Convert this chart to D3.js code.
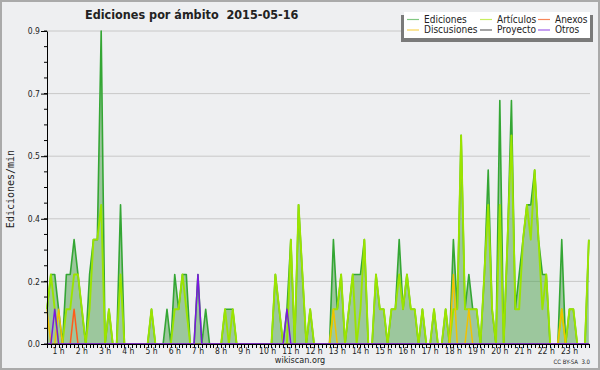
<!DOCTYPE html>
<html>
<head>
<meta charset="utf-8">
<script src="https://cdn.jsdelivr.net/npm/d3@7"></script>
<style>
body { margin: 0; background: #fff; }
text { font-family: "DejaVu Sans Condensed", "DejaVu Sans", sans-serif; fill: #222; }
</style>
</head>
<body>
<div id="chart"></div>
<script>
const w = 600;
const h = 370;

// one value every 10 minutes, first bin at 00:30
const startMinute = 30;
const binMinutes = 10;

const ediciones = [
              0.1, 0.2, 0.2,
    0.1, 0, 0.2, 0.2, 0.3, 0.2,
    0.1, 0, 0.2, 0.3, 0.3, 0.9,
    0, 0.1, 0, 0, 0.4, 0,
    0, 0, 0, 0, 0, 0,
    0.1, 0, 0, 0, 0.1, 0,
    0.2, 0.1, 0.2, 0.2, 0, 0,
    0.2, 0, 0.1, 0, 0, 0,
    0, 0.1, 0.1, 0.1, 0, 0,
    0, 0, 0, 0, 0, 0,
    0, 0, 0.2, 0.1, 0, 0.1,
    0.3, 0, 0.4, 0.2, 0, 0.1,
    0, 0, 0, 0, 0, 0.3,
    0.1, 0.2, 0, 0.1, 0.2, 0.2,
    0.2, 0.3, 0, 0, 0.2, 0.1,
    0.1, 0, 0.1, 0.1, 0.3, 0.1,
    0.2, 0.1, 0.1, 0, 0.1, 0,
    0, 0.1, 0, 0, 0.1, 0,
    0.3, 0.1, 0.6, 0.1, 0.2, 0.1,
    0.1, 0, 0.2, 0.5, 0.1, 0,
    0.7, 0, 0.3, 0.7, 0.1, 0.2,
    0.3, 0.4, 0.4, 0.5, 0.3, 0.2,
    0.2, 0, 0, 0, 0.3, 0,
    0.1, 0.1, 0, 0, 0, 0.3
];

const articulos = [
              0.1, 0.2, 0.1,
    0, 0, 0.1, 0.1, 0.2, 0.2,
    0.1, 0, 0.1, 0.3, 0.3, 0.4,
    0, 0.1, 0, 0, 0.2, 0,
    0, 0, 0, 0, 0, 0,
    0.1, 0, 0, 0, 0, 0,
    0.1, 0.1, 0.2, 0.1, 0, 0,
    0, 0, 0, 0, 0, 0,
    0, 0.1, 0, 0.1, 0, 0,
    0, 0, 0, 0, 0, 0,
    0, 0, 0.2, 0.1, 0, 0,
    0.3, 0, 0.4, 0.2, 0, 0.1,
    0, 0, 0, 0, 0, 0.1,
    0.1, 0.2, 0, 0.1, 0.2, 0,
    0.1, 0.3, 0, 0, 0.2, 0.1,
    0.1, 0, 0.1, 0.1, 0.2, 0.1,
    0.2, 0.1, 0.1, 0, 0.1, 0,
    0, 0.1, 0, 0, 0.1, 0,
    0.1, 0.1, 0.6, 0.1, 0.1, 0.1,
    0.1, 0, 0.2, 0.4, 0.1, 0,
    0.4, 0, 0.3, 0.6, 0.1, 0.1,
    0.3, 0.4, 0.3, 0.5, 0.3, 0.1,
    0.2, 0, 0, 0, 0.1, 0,
    0.1, 0.1, 0, 0, 0, 0.3
];

const anexos = [
              0, 0, 0,
    0, 0, 0, 0, 0.1, 0,
    0, 0, 0, 0, 0, 0,
    0, 0, 0, 0, 0, 0,
    0, 0, 0, 0, 0, 0,
    0, 0, 0, 0, 0, 0,
    0, 0, 0, 0, 0, 0,
    0, 0, 0, 0, 0, 0,
    0, 0, 0, 0, 0, 0,
    0, 0, 0, 0, 0, 0,
    0, 0, 0, 0, 0, 0,
    0, 0, 0, 0, 0, 0,
    0, 0, 0, 0, 0, 0,
    0, 0, 0, 0, 0, 0,
    0, 0, 0, 0, 0, 0,
    0, 0, 0, 0, 0, 0,
    0, 0, 0, 0, 0, 0,
    0, 0, 0, 0, 0, 0,
    0, 0, 0, 0, 0, 0,
    0, 0, 0, 0, 0, 0,
    0, 0, 0, 0, 0, 0,
    0, 0, 0, 0, 0, 0,
    0, 0, 0, 0, 0, 0,
    0, 0, 0, 0, 0, 0
];

const discusiones = [
              0.1, 0, 0,
    0.1, 0, 0, 0, 0, 0,
    0, 0, 0, 0, 0, 0,
    0, 0, 0, 0, 0, 0,
    0, 0, 0, 0, 0, 0,
    0, 0, 0, 0, 0, 0,
    0, 0, 0, 0, 0, 0,
    0, 0, 0, 0, 0, 0,
    0, 0, 0, 0, 0, 0,
    0, 0, 0, 0, 0, 0,
    0, 0, 0, 0, 0, 0,
    0, 0, 0, 0, 0, 0,
    0, 0, 0, 0, 0, 0.1,
    0, 0, 0, 0, 0, 0,
    0, 0, 0, 0, 0, 0,
    0, 0, 0, 0, 0, 0,
    0, 0, 0, 0, 0, 0,
    0, 0, 0, 0, 0, 0,
    0.2, 0, 0, 0, 0.1, 0,
    0, 0, 0, 0, 0, 0,
    0, 0, 0, 0, 0, 0,
    0, 0, 0, 0, 0, 0,
    0, 0, 0, 0, 0.1, 0,
    0, 0, 0, 0, 0, 0
];

const proyecto = [
              0, 0, 0,
    0, 0, 0, 0, 0, 0,
    0, 0, 0, 0, 0, 0,
    0, 0, 0, 0, 0, 0,
    0, 0, 0, 0, 0, 0,
    0, 0, 0, 0, 0, 0,
    0, 0, 0, 0, 0, 0,
    0, 0, 0, 0, 0, 0,
    0, 0, 0, 0, 0, 0,
    0, 0, 0, 0, 0, 0,
    0, 0, 0, 0, 0, 0,
    0, 0, 0, 0, 0, 0,
    0, 0, 0, 0, 0, 0,
    0, 0, 0, 0, 0, 0,
    0, 0, 0, 0, 0, 0,
    0, 0, 0, 0, 0, 0,
    0, 0, 0, 0, 0, 0,
    0, 0, 0, 0, 0, 0,
    0, 0, 0, 0, 0, 0,
    0, 0, 0, 0, 0, 0,
    0, 0, 0, 0, 0, 0,
    0, 0, 0, 0, 0, 0,
    0, 0, 0, 0, 0, 0,
    0, 0, 0, 0, 0, 0
];

const otros = [
              0, 0, 0.1,
    0, 0, 0, 0, 0, 0,
    0, 0, 0, 0, 0, 0,
    0, 0, 0, 0, 0, 0,
    0, 0, 0, 0, 0, 0,
    0, 0, 0, 0, 0, 0,
    0, 0, 0, 0, 0, 0,
    0.2, 0, 0, 0, 0, 0,
    0, 0, 0, 0, 0, 0,
    0, 0, 0, 0, 0, 0,
    0, 0, 0, 0, 0, 0.1,
    0, 0, 0, 0, 0, 0,
    0, 0, 0, 0, 0, 0,
    0, 0, 0, 0, 0, 0,
    0, 0, 0, 0, 0, 0,
    0, 0, 0, 0, 0, 0,
    0, 0, 0, 0, 0, 0,
    0, 0, 0, 0, 0, 0,
    0, 0, 0, 0, 0, 0,
    0, 0, 0, 0, 0, 0,
    0, 0, 0, 0, 0, 0,
    0, 0, 0, 0, 0, 0,
    0, 0, 0, 0, 0, 0,
    0, 0, 0, 0, 0, 0
];

const seriesNames = ["Ediciones", "Artículos", "Anexos", "Discusiones", "Proyecto", "Otros"];
const hourTicks = [1, 2, 3, 4, 5, 6, 7, 8, 9, 10, 11, 12, 13, 14, 15, 16, 17, 18, 19, 20, 21, 22, 23];
const yTicks = [0, 0.18, 0.36, 0.54, 0.72, 0.9];
const title = "Ediciones por ámbito  2015-05-16";
const yTitle = "Ediciones/min";

const lineColors = ["#34a634", "#9be400", "#ff5c1a", "#f2c200", "#555555", "#7a18e0"];
const lineWidths = [1.6, 1.9, 1.5, 1.5, 1.5, 1.5];
const legendColors = ["#82c882", "#c8ee60", "#f7875a", "#f8d458", "#666666", "#a060e8"];

const series = [ediciones, articulos, anexos, discusiones, proyecto, otros];
const minutes = ediciones.map((d, i) => startMinute + i * binMinutes);

const svg = d3.select("div#chart").append("svg")
    .attr("width", w)
    .attr("height", h);

// background + frame
svg.append("rect")
    .attr("x", 1).attr("y", 1)
    .attr("width", w - 2).attr("height", h - 2)
    .attr("fill", "#eeeff1")
    .attr("stroke", "#aaaaaa")
    .attr("stroke-width", 2);

const x = d3.scaleLinear().domain([30, 1433]).range([47, 590]);
const y = d3.scaleLinear().domain([0, 0.9]).range([344, 31]);

// grid
svg.selectAll("line.grid")
    .data(yTicks)
    .enter()
    .append("line")
    .attr("class", "grid")
    .attr("x1", 47).attr("x2", 590)
    .attr("y1", d => y(d)).attr("y2", d => y(d))
    .attr("stroke", "#c8c8c8")
    .attr("stroke-width", 1);

// area for total edits
const area = d3.area()
    .x((d, i) => x(minutes[i]))
    .y0(y(0))
    .y1(d => y(d));

svg.append("path")
    .datum(ediciones)
    .attr("d", area)
    .attr("fill", "#4a9f4a")
    .attr("fill-opacity", 0.5);

// lines
const line = d3.line()
    .x((d, i) => x(minutes[i]))
    .y(d => y(d));

series.forEach(function(s, i) {
    svg.append("path")
        .datum(s)
        .attr("d", line)
        .attr("fill", "none")
        .attr("stroke", lineColors[i])
        .attr("stroke-width", lineWidths[i])
        .attr("stroke-linejoin", "round");
});

// y axis
const yAxis = d3.axisLeft(y)
    .tickValues(yTicks)
    .tickFormat(d3.format(".1f"))
    .tickSize(6)
    .tickSizeOuter(0);

const gy = svg.append("g")
    .attr("transform", "translate(47,0)")
    .call(yAxis);
gy.select(".domain").attr("stroke", "#000");
gy.selectAll(".tick line").attr("stroke", "#000");
gy.selectAll("text")
    .attr("font-size", 8.5)
    .attr("fill", "#333")
    .attr("x", -7)
    .style("font-family", '"DejaVu Sans Condensed", "DejaVu Sans", sans-serif');

// minor y ticks
svg.selectAll("line.yminor")
    .data(d3.range(0, 0.9001, 0.045))
    .enter()
    .append("line")
    .attr("class", "yminor")
    .attr("x1", 44).attr("x2", 47)
    .attr("y1", d => y(d)).attr("y2", d => y(d))
    .attr("stroke", "#000");

// x axis
svg.append("line")
    .attr("x1", 47).attr("x2", 590)
    .attr("y1", 344.5).attr("y2", 344.5)
    .attr("stroke", "#000")
    .attr("stroke-width", 1);

svg.selectAll("line.xminor")
    .data(minutes)
    .enter()
    .append("line")
    .attr("class", "xminor")
    .attr("x1", d => Math.round(x(d)) + 0.5).attr("x2", d => Math.round(x(d)) + 0.5)
    .attr("y1", 344).attr("y2", 348)
    .attr("stroke", "#000");

svg.selectAll("text.hour")
    .data(hourTicks)
    .enter()
    .append("text")
    .attr("class", "hour")
    .attr("x", d => x(d * 60))
    .attr("y", 354)
    .attr("text-anchor", "middle")
    .attr("font-size", 8.5)
    .attr("fill", "#333")
    .text(d => d + " h");

// titles
svg.append("text")
    .attr("x", 85)
    .attr("y", 18.5)
    .attr("font-size", 12.5)
    .attr("font-weight", "bold")
    .style("white-space", "pre")
    .text(title);

svg.append("text")
    .attr("transform", "translate(14," + 189 + ") rotate(-90)")
    .attr("text-anchor", "middle")
    .attr("font-size", 10)
    .style("font-family", '"DejaVu Sans Mono", monospace')
    .text(yTitle);

svg.append("text")
    .attr("x", 300)
    .attr("y", 363)
    .attr("text-anchor", "middle")
    .attr("font-size", 9)
    .attr("fill", "#333")
    .text("wikiscan.org");

svg.append("text")
    .attr("x", 590)
    .attr("y", 364)
    .attr("text-anchor", "end")
    .attr("font-size", 6)
    .attr("fill", "#333")
    .style("white-space", "pre")
    .text("CC BY-SA  3.0");

// legend
svg.append("rect")
    .attr("x", 401).attr("y", 15)
    .attr("width", 192).attr("height", 27)
    .attr("fill", "#7a7a7a");
svg.append("rect")
    .attr("x", 404).attr("y", 12)
    .attr("width", 186).attr("height", 26)
    .attr("fill", "#ffffff");

const colX = [407, 480, 538];
const legend = svg.selectAll("g.legend")
    .data(seriesNames)
    .enter()
    .append("g")
    .attr("class", "legend")
    .attr("transform", (d, i) => "translate(" + colX[i % 3] + "," + (19 + Math.floor(i / 3) * 10.5) + ")");

legend.append("line")
    .attr("x1", 0).attr("x2", 12)
    .attr("y1", 0.5).attr("y2", 0.5)
    .attr("stroke", (d, i) => legendColors[i])
    .attr("stroke-width", 1.2);

legend.append("text")
    .attr("x", 17)
    .attr("y", 3.5)
    .attr("font-size", 10)
    .attr("fill", "#333")
    .text(d => d);
</script>
</body>
</html>
